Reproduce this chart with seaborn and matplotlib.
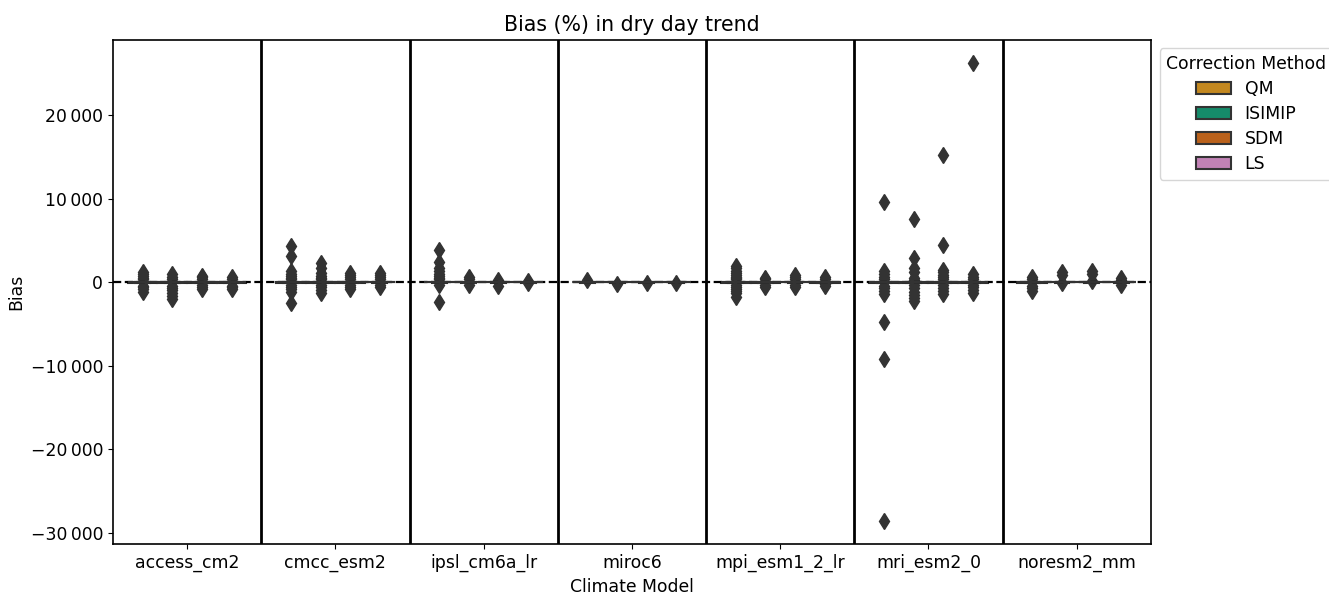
import numpy as np
import pandas as pd
import matplotlib
matplotlib.use("Agg")
import matplotlib.pyplot as plt
import seaborn as sns
from matplotlib.ticker import FuncFormatter

models = ["access_cm2", "cmcc_esm2", "ipsl_cm6a_lr", "miroc6",
          "mpi_esm1_2_lr", "mri_esm2_0", "noresm2_mm"]
methods = ["QM", "ISIMIP", "SDM", "LS"]

# Bulk of the bias values (all close to zero) shared by every box
core_bias = [-60, -52, -45, -40, -35, -31, -27, -24, -21, -18, -15, -13, -11, -9, -7,
             -5, -3, -2, -1, 0, 0, 1, 2, 3, 5, 7, 9, 11, 13, 15, 18, 21, 24, 27,
             31, 35, 40, 45, 52, 60]

# Outlier values per model, one list per method (QM, ISIMIP, SDM, LS)
access_cm2 = [
    [1250, 1000, 780, 560, 380, -380, -600, -820, -1150],
    [950, 700, 450, -400, -650, -900, -1250, -1600, -2050],
    [800, 600, 400, -350, -550, -780],
    [620, 420, -380, -560, -800],
]
cmcc_esm2 = [
    [4400, 3200, 1300, 1000, 750, 500, 350, -350, -600, -850, -1100, -2450],
    [2300, 1700, 1100, 800, 500, 350, -350, -600, -900, -1250],
    [1150, 900, 650, 400, -350, -550, -800],
    [1150, 850, 600, 380, -300, -500],
]
ipsl_cm6a_lr = [
    [3900, 2400, 1700, 1300, 1000, 750, 500, 350, -350, -2300],
    [700, 450, -300],
    [250, -400],
    [200, -120],
]
miroc6 = [
    [300],
    [-150],
    [-120],
    [-100],
]
mpi_esm1_2_lr = [
    [2000, 1700, 1400, 1150, 900, 700, 500, 350, -350, -550, -800, -1050, -1300, -1800],
    [550, 350, -350, -600],
    [900, 600, 350, -300, -500],
    [700, 450, -250, -400],
]
mri_esm2_0 = [
    [9600, 1300, 1000, 700, 450, -400, -700, -1000, -1400, -4800, -9200, -28600],
    [7600, 2900, 1700, 1200, 500, 300, -350, -700, -1100, -1500, -1900, -2250],
    [15200, 4500, 1500, 1200, 900, 600, 350, -350, -700, -1000, -1400],
    [26300, 1000, 700, 400, -350, -600, -900, -1300],
]
noresm2_mm = [
    [700, 450, -400, -700, -1000],
    [1200, 900, -120],
    [1400, 1000, 200],
    [500, 300, -300],
]

all_vals = [access_cm2, cmcc_esm2, ipsl_cm6a_lr, miroc6, mpi_esm1_2_lr, mri_esm2_0, noresm2_mm]

rows = []
for m, per_method in zip(models, all_vals):
    for meth, vals in zip(methods, per_method):
        for v in core_bias + vals:
            rows.append({"Climate Model": m, "Correction Method": meth, "Bias": v})
df = pd.DataFrame(rows)

plt.rcParams['font.family'] = ['DejaVu Sans']

fig = plt.figure(figsize=(13.29, 5.94), dpi=100)
ax = fig.add_axes([0.085, 0.084, 0.781, 0.849])

palette = sns.color_palette("colorblind")
pal = [palette[1], palette[2], palette[3], palette[4]]

sns.boxplot(data=df, x="Climate Model", y="Bias", hue="Correction Method",
            order=models, hue_order=methods, palette=pal, ax=ax,
            linecolor="#333333", linewidth=1.5,
            flierprops=dict(marker="d", markerfacecolor="#333333",
                            markeredgecolor="#333333", markersize=8))

for i in range(len(models) - 1):
    ax.axvline(i + 0.5, color="black", lw=2)
ax.axhline(0, color="black", ls="--", lw=1.6)

ax.set_xlim(-0.5, len(models) - 0.5)
ax.set_yticks([-30000, -20000, -10000, 0, 10000, 20000])
ax.yaxis.set_major_formatter(FuncFormatter(
    lambda v, p: ("\u2212" if v < 0 else "") + f"{abs(int(v)):,}".replace(",", "\u2009")))

ax.set_title("Bias (%) in dry day trend", fontsize=14.8)
ax.set_xlabel("Climate Model", fontsize=12.4)
ax.set_ylabel("Bias", fontsize=12.4)
ax.tick_params(labelsize=12.4)
for s in ax.spines.values():
    s.set_linewidth(1.2)
    s.set_color("black")

ax.legend(title="Correction Method", loc="upper left", bbox_to_anchor=(1.0, 1.0),
          fontsize=12.4, title_fontsize=12.4, labelspacing=0.4)

fig.savefig("out.png", dpi=100)
